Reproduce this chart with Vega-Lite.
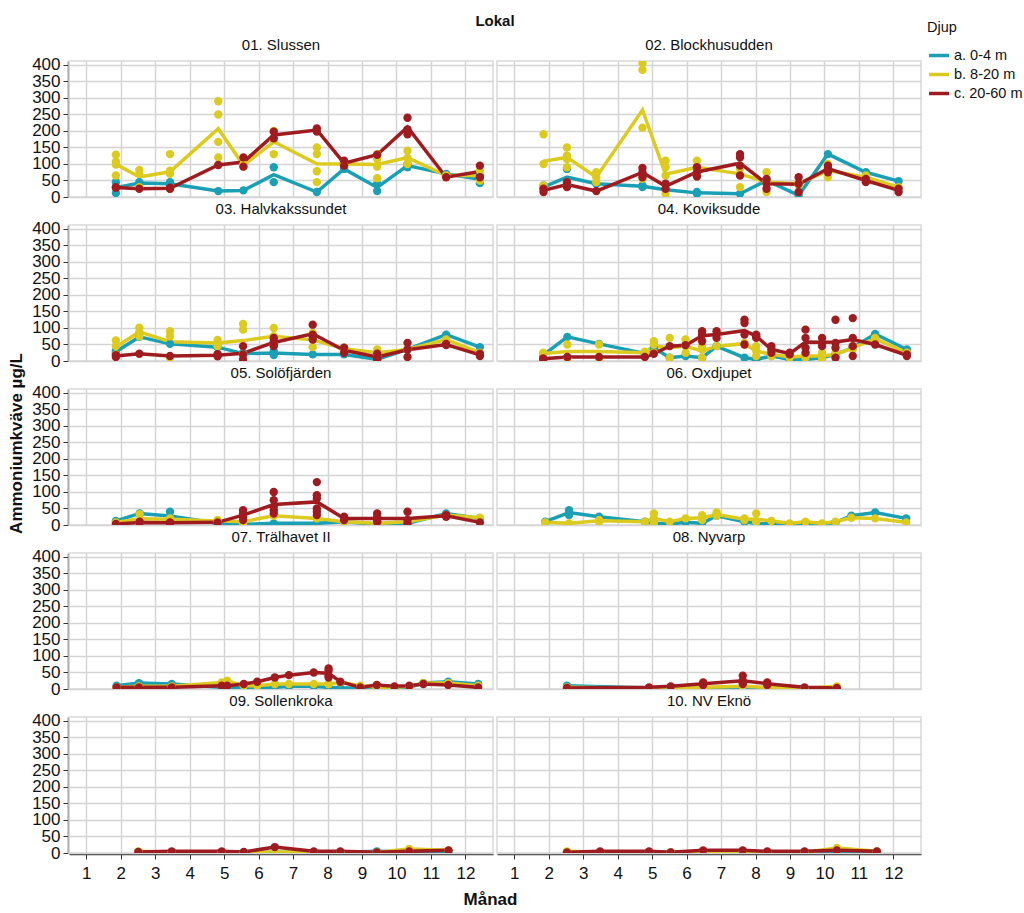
{
"$schema": "https://vega.github.io/schema/vega-lite/v6.json",
"background": "white",
"padding": {"left": 7, "top": 14, "right": 0, "bottom": 0},
"config": {
 "font": "Liberation Sans, Arial, sans-serif",
 "view": {"stroke": "#d9d9d9", "strokeWidth": 1.5},
 "axis": {"labelFontSize": 17, "labelColor": "#111111", "gridColor": "#d4d4d4", "gridWidth": 1.5, "domainColor": "#333333", "domainWidth": 1.5, "tickColor": "#333333", "tickSize": 5, "labelPadding": 3, "labelOverlap": false},
 "header": {"labelFontSize": 15, "labelColor": "#111111", "titleFontSize": 15, "titleFontWeight": "bold", "titleColor": "#111111", "labelPadding": 8, "titlePadding": 8},
 "legend": {"labelFontSize": 14.5, "titleFontSize": 14.5, "titleFontWeight": "normal", "labelColor": "#111111", "titleColor": "#111111"}
},
"title": {"text": "Ammoniumkväve µg/L", "orient": "left", "anchor": "middle", "fontSize": 17, "fontWeight": "bold", "color": "#111111", "offset": 6, "dx": 20},
"vconcat": [
 {
  "data": {"values": [
{"l":"01. Slussen","d":"a. 0-4 m","m":1.86,"v":45},{"l":"01. Slussen","d":"a. 0-4 m","m":1.86,"v":12},{"l":"01. Slussen","d":"a. 0-4 m","m":2.54,"v":45},{"l":"01. Slussen","d":"a. 0-4 m","m":2.54,"v":40},{"l":"01. Slussen","d":"a. 0-4 m","m":3.43,"v":45},{"l":"01. Slussen","d":"a. 0-4 m","m":3.43,"v":35},{"l":"01. Slussen","d":"a. 0-4 m","m":4.83,"v":18},{"l":"01. Slussen","d":"a. 0-4 m","m":5.56,"v":20},{"l":"01. Slussen","d":"a. 0-4 m","m":6.44,"v":90},{"l":"01. Slussen","d":"a. 0-4 m","m":6.44,"v":45},{"l":"01. Slussen","d":"a. 0-4 m","m":7.69,"v":15},{"l":"01. Slussen","d":"a. 0-4 m","m":8.48,"v":85},{"l":"01. Slussen","d":"a. 0-4 m","m":9.44,"v":40},{"l":"01. Slussen","d":"a. 0-4 m","m":9.44,"v":18},{"l":"01. Slussen","d":"a. 0-4 m","m":10.32,"v":90},{"l":"01. Slussen","d":"a. 0-4 m","m":10.32,"v":100},{"l":"01. Slussen","d":"a. 0-4 m","m":11.44,"v":70},{"l":"01. Slussen","d":"a. 0-4 m","m":12.42,"v":42},{"l":"01. Slussen","d":"a. 0-4 m","m":12.42,"v":65},
{"l":"02. Blockhusudden","d":"a. 0-4 m","m":1.85,"v":35},{"l":"02. Blockhusudden","d":"a. 0-4 m","m":1.85,"v":25},{"l":"02. Blockhusudden","d":"a. 0-4 m","m":2.53,"v":85},{"l":"02. Blockhusudden","d":"a. 0-4 m","m":2.53,"v":35},{"l":"02. Blockhusudden","d":"a. 0-4 m","m":3.38,"v":40},{"l":"02. Blockhusudden","d":"a. 0-4 m","m":4.72,"v":35},{"l":"02. Blockhusudden","d":"a. 0-4 m","m":4.72,"v":30},{"l":"02. Blockhusudden","d":"a. 0-4 m","m":5.39,"v":22},{"l":"02. Blockhusudden","d":"a. 0-4 m","m":6.3,"v":15},{"l":"02. Blockhusudden","d":"a. 0-4 m","m":6.3,"v":10},{"l":"02. Blockhusudden","d":"a. 0-4 m","m":7.55,"v":10},{"l":"02. Blockhusudden","d":"a. 0-4 m","m":8.32,"v":50},{"l":"02. Blockhusudden","d":"a. 0-4 m","m":9.25,"v":5},{"l":"02. Blockhusudden","d":"a. 0-4 m","m":10.1,"v":130},{"l":"02. Blockhusudden","d":"a. 0-4 m","m":11.2,"v":75},{"l":"02. Blockhusudden","d":"a. 0-4 m","m":12.15,"v":48},
{"l":"03. Halvkakssundet","d":"a. 0-4 m","m":1.86,"v":31},{"l":"03. Halvkakssundet","d":"a. 0-4 m","m":1.86,"v":25},{"l":"03. Halvkakssundet","d":"a. 0-4 m","m":2.54,"v":73},{"l":"03. Halvkakssundet","d":"a. 0-4 m","m":3.43,"v":52},{"l":"03. Halvkakssundet","d":"a. 0-4 m","m":4.81,"v":42},{"l":"03. Halvkakssundet","d":"a. 0-4 m","m":5.55,"v":20},{"l":"03. Halvkakssundet","d":"a. 0-4 m","m":5.55,"v":25},{"l":"03. Halvkakssundet","d":"a. 0-4 m","m":6.44,"v":30},{"l":"03. Halvkakssundet","d":"a. 0-4 m","m":6.44,"v":18},{"l":"03. Halvkakssundet","d":"a. 0-4 m","m":7.57,"v":20},{"l":"03. Halvkakssundet","d":"a. 0-4 m","m":8.48,"v":20},{"l":"03. Halvkakssundet","d":"a. 0-4 m","m":9.44,"v":5},{"l":"03. Halvkakssundet","d":"a. 0-4 m","m":10.32,"v":35},{"l":"03. Halvkakssundet","d":"a. 0-4 m","m":11.44,"v":80},{"l":"03. Halvkakssundet","d":"a. 0-4 m","m":12.42,"v":42},
{"l":"04. Koviksudde","d":"a. 0-4 m","m":1.84,"v":18},{"l":"04. Koviksudde","d":"a. 0-4 m","m":2.54,"v":73},{"l":"04. Koviksudde","d":"a. 0-4 m","m":3.46,"v":52},{"l":"04. Koviksudde","d":"a. 0-4 m","m":4.79,"v":23},{"l":"04. Koviksudde","d":"a. 0-4 m","m":5.05,"v":40},{"l":"04. Koviksudde","d":"a. 0-4 m","m":5.51,"v":10},{"l":"04. Koviksudde","d":"a. 0-4 m","m":5.97,"v":15},{"l":"04. Koviksudde","d":"a. 0-4 m","m":6.45,"v":10},{"l":"04. Koviksudde","d":"a. 0-4 m","m":6.87,"v":45},{"l":"04. Koviksudde","d":"a. 0-4 m","m":7.68,"v":10},{"l":"04. Koviksudde","d":"a. 0-4 m","m":8.02,"v":5},{"l":"04. Koviksudde","d":"a. 0-4 m","m":8.46,"v":15},{"l":"04. Koviksudde","d":"a. 0-4 m","m":8.99,"v":5},{"l":"04. Koviksudde","d":"a. 0-4 m","m":9.45,"v":5},{"l":"04. Koviksudde","d":"a. 0-4 m","m":9.93,"v":10},{"l":"04. Koviksudde","d":"a. 0-4 m","m":10.32,"v":20},{"l":"04. Koviksudde","d":"a. 0-4 m","m":10.82,"v":40},{"l":"04. Koviksudde","d":"a. 0-4 m","m":11.47,"v":82},{"l":"04. Koviksudde","d":"a. 0-4 m","m":12.39,"v":35},
{"l":"05. Solöfjärden","d":"a. 0-4 m","m":1.86,"v":12},{"l":"05. Solöfjärden","d":"a. 0-4 m","m":2.55,"v":35},{"l":"05. Solöfjärden","d":"a. 0-4 m","m":3.43,"v":40},{"l":"05. Solöfjärden","d":"a. 0-4 m","m":3.43,"v":15},{"l":"05. Solöfjärden","d":"a. 0-4 m","m":4.81,"v":5},{"l":"05. Solöfjärden","d":"a. 0-4 m","m":5.55,"v":2},{"l":"05. Solöfjärden","d":"a. 0-4 m","m":6.44,"v":5},{"l":"05. Solöfjärden","d":"a. 0-4 m","m":7.69,"v":5},{"l":"05. Solöfjärden","d":"a. 0-4 m","m":8.48,"v":10},{"l":"05. Solöfjärden","d":"a. 0-4 m","m":9.44,"v":2},{"l":"05. Solöfjärden","d":"a. 0-4 m","m":10.32,"v":5},{"l":"05. Solöfjärden","d":"a. 0-4 m","m":11.44,"v":35},{"l":"05. Solöfjärden","d":"a. 0-4 m","m":12.42,"v":20},
{"l":"06. Oxdjupet","d":"a. 0-4 m","m":1.9,"v":10},{"l":"06. Oxdjupet","d":"a. 0-4 m","m":2.59,"v":45},{"l":"06. Oxdjupet","d":"a. 0-4 m","m":2.59,"v":30},{"l":"06. Oxdjupet","d":"a. 0-4 m","m":3.46,"v":25},{"l":"06. Oxdjupet","d":"a. 0-4 m","m":4.79,"v":10},{"l":"06. Oxdjupet","d":"a. 0-4 m","m":5.05,"v":5},{"l":"06. Oxdjupet","d":"a. 0-4 m","m":5.51,"v":3},{"l":"06. Oxdjupet","d":"a. 0-4 m","m":5.97,"v":8},{"l":"06. Oxdjupet","d":"a. 0-4 m","m":6.45,"v":5},{"l":"06. Oxdjupet","d":"a. 0-4 m","m":6.87,"v":28},{"l":"06. Oxdjupet","d":"a. 0-4 m","m":7.68,"v":10},{"l":"06. Oxdjupet","d":"a. 0-4 m","m":8.02,"v":5},{"l":"06. Oxdjupet","d":"a. 0-4 m","m":8.46,"v":3},{"l":"06. Oxdjupet","d":"a. 0-4 m","m":8.99,"v":2},{"l":"06. Oxdjupet","d":"a. 0-4 m","m":9.45,"v":3},{"l":"06. Oxdjupet","d":"a. 0-4 m","m":9.93,"v":2},{"l":"06. Oxdjupet","d":"a. 0-4 m","m":10.32,"v":8},{"l":"06. Oxdjupet","d":"a. 0-4 m","m":10.78,"v":28},{"l":"06. Oxdjupet","d":"a. 0-4 m","m":11.47,"v":38},{"l":"06. Oxdjupet","d":"a. 0-4 m","m":12.37,"v":20},
{"l":"07. Trälhavet II","d":"a. 0-4 m","m":1.88,"v":10},{"l":"07. Trälhavet II","d":"a. 0-4 m","m":2.53,"v":18},{"l":"07. Trälhavet II","d":"a. 0-4 m","m":3.48,"v":15},{"l":"07. Trälhavet II","d":"a. 0-4 m","m":4.93,"v":5},{"l":"07. Trälhavet II","d":"a. 0-4 m","m":5.09,"v":5},{"l":"07. Trälhavet II","d":"a. 0-4 m","m":5.57,"v":3},{"l":"07. Trälhavet II","d":"a. 0-4 m","m":5.96,"v":3},{"l":"07. Trälhavet II","d":"a. 0-4 m","m":6.47,"v":5},{"l":"07. Trälhavet II","d":"a. 0-4 m","m":6.88,"v":8},{"l":"07. Trälhavet II","d":"a. 0-4 m","m":7.6,"v":8},{"l":"07. Trälhavet II","d":"a. 0-4 m","m":8.03,"v":5},{"l":"07. Trälhavet II","d":"a. 0-4 m","m":8.37,"v":3},{"l":"07. Trälhavet II","d":"a. 0-4 m","m":8.95,"v":3},{"l":"07. Trälhavet II","d":"a. 0-4 m","m":9.43,"v":3},{"l":"07. Trälhavet II","d":"a. 0-4 m","m":9.94,"v":3},{"l":"07. Trälhavet II","d":"a. 0-4 m","m":10.37,"v":5},{"l":"07. Trälhavet II","d":"a. 0-4 m","m":10.78,"v":18},{"l":"07. Trälhavet II","d":"a. 0-4 m","m":11.5,"v":22},{"l":"07. Trälhavet II","d":"a. 0-4 m","m":12.37,"v":15},
{"l":"08. Nyvarp","d":"a. 0-4 m","m":2.53,"v":10},{"l":"08. Nyvarp","d":"a. 0-4 m","m":4.91,"v":3},{"l":"08. Nyvarp","d":"a. 0-4 m","m":5.54,"v":2},{"l":"08. Nyvarp","d":"a. 0-4 m","m":6.48,"v":2},{"l":"08. Nyvarp","d":"a. 0-4 m","m":7.63,"v":2},{"l":"08. Nyvarp","d":"a. 0-4 m","m":8.34,"v":2},{"l":"08. Nyvarp","d":"a. 0-4 m","m":9.42,"v":2},{"l":"08. Nyvarp","d":"a. 0-4 m","m":10.36,"v":2},
{"l":"09. Sollenkroka","d":"a. 0-4 m","m":2.51,"v":2},{"l":"09. Sollenkroka","d":"a. 0-4 m","m":3.48,"v":2},{"l":"09. Sollenkroka","d":"a. 0-4 m","m":4.93,"v":2},{"l":"09. Sollenkroka","d":"a. 0-4 m","m":5.57,"v":2},{"l":"09. Sollenkroka","d":"a. 0-4 m","m":6.47,"v":2},{"l":"09. Sollenkroka","d":"a. 0-4 m","m":7.6,"v":2},{"l":"09. Sollenkroka","d":"a. 0-4 m","m":8.37,"v":2},{"l":"09. Sollenkroka","d":"a. 0-4 m","m":9.43,"v":5},{"l":"09. Sollenkroka","d":"a. 0-4 m","m":10.37,"v":3},{"l":"09. Sollenkroka","d":"a. 0-4 m","m":11.51,"v":5},
{"l":"10. NV Eknö","d":"a. 0-4 m","m":2.53,"v":2},{"l":"10. NV Eknö","d":"a. 0-4 m","m":3.49,"v":2},{"l":"10. NV Eknö","d":"a. 0-4 m","m":4.91,"v":2},{"l":"10. NV Eknö","d":"a. 0-4 m","m":5.54,"v":2},{"l":"10. NV Eknö","d":"a. 0-4 m","m":6.48,"v":2},{"l":"10. NV Eknö","d":"a. 0-4 m","m":7.63,"v":2},{"l":"10. NV Eknö","d":"a. 0-4 m","m":8.34,"v":2},{"l":"10. NV Eknö","d":"a. 0-4 m","m":9.42,"v":2},{"l":"10. NV Eknö","d":"a. 0-4 m","m":10.36,"v":2},{"l":"10. NV Eknö","d":"a. 0-4 m","m":11.52,"v":2},
{"l":"01. Slussen","d":"b. 8-20 m","m":1.86,"v":128},{"l":"01. Slussen","d":"b. 8-20 m","m":1.86,"v":107},{"l":"01. Slussen","d":"b. 8-20 m","m":1.86,"v":98},{"l":"01. Slussen","d":"b. 8-20 m","m":1.86,"v":65},{"l":"01. Slussen","d":"b. 8-20 m","m":2.54,"v":82},{"l":"01. Slussen","d":"b. 8-20 m","m":2.54,"v":70},{"l":"01. Slussen","d":"b. 8-20 m","m":2.54,"v":30},{"l":"01. Slussen","d":"b. 8-20 m","m":3.43,"v":130},{"l":"01. Slussen","d":"b. 8-20 m","m":3.43,"v":80},{"l":"01. Slussen","d":"b. 8-20 m","m":3.43,"v":70},{"l":"01. Slussen","d":"b. 8-20 m","m":3.43,"v":25},{"l":"01. Slussen","d":"b. 8-20 m","m":4.83,"v":290},{"l":"01. Slussen","d":"b. 8-20 m","m":4.83,"v":250},{"l":"01. Slussen","d":"b. 8-20 m","m":4.83,"v":167},{"l":"01. Slussen","d":"b. 8-20 m","m":4.83,"v":120},{"l":"01. Slussen","d":"b. 8-20 m","m":5.56,"v":100},{"l":"01. Slussen","d":"b. 8-20 m","m":5.56,"v":92},{"l":"01. Slussen","d":"b. 8-20 m","m":6.44,"v":200},{"l":"01. Slussen","d":"b. 8-20 m","m":6.44,"v":172},{"l":"01. Slussen","d":"b. 8-20 m","m":6.44,"v":130},{"l":"01. Slussen","d":"b. 8-20 m","m":7.69,"v":150},{"l":"01. Slussen","d":"b. 8-20 m","m":7.69,"v":130},{"l":"01. Slussen","d":"b. 8-20 m","m":7.69,"v":78},{"l":"01. Slussen","d":"b. 8-20 m","m":7.69,"v":45},{"l":"01. Slussen","d":"b. 8-20 m","m":8.48,"v":100},{"l":"01. Slussen","d":"b. 8-20 m","m":9.44,"v":130},{"l":"01. Slussen","d":"b. 8-20 m","m":9.44,"v":92},{"l":"01. Slussen","d":"b. 8-20 m","m":9.44,"v":57},{"l":"01. Slussen","d":"b. 8-20 m","m":9.44,"v":115},{"l":"01. Slussen","d":"b. 8-20 m","m":10.32,"v":140},{"l":"01. Slussen","d":"b. 8-20 m","m":10.32,"v":118},{"l":"01. Slussen","d":"b. 8-20 m","m":10.32,"v":100},{"l":"01. Slussen","d":"b. 8-20 m","m":11.44,"v":65},{"l":"01. Slussen","d":"b. 8-20 m","m":12.42,"v":80},{"l":"01. Slussen","d":"b. 8-20 m","m":12.42,"v":50},
{"l":"02. Blockhusudden","d":"b. 8-20 m","m":1.85,"v":190},{"l":"02. Blockhusudden","d":"b. 8-20 m","m":1.85,"v":100},{"l":"02. Blockhusudden","d":"b. 8-20 m","m":1.85,"v":35},{"l":"02. Blockhusudden","d":"b. 8-20 m","m":2.53,"v":150},{"l":"02. Blockhusudden","d":"b. 8-20 m","m":2.53,"v":125},{"l":"02. Blockhusudden","d":"b. 8-20 m","m":2.53,"v":115},{"l":"02. Blockhusudden","d":"b. 8-20 m","m":2.53,"v":90},{"l":"02. Blockhusudden","d":"b. 8-20 m","m":3.38,"v":75},{"l":"02. Blockhusudden","d":"b. 8-20 m","m":3.38,"v":60},{"l":"02. Blockhusudden","d":"b. 8-20 m","m":3.38,"v":45},{"l":"02. Blockhusudden","d":"b. 8-20 m","m":4.72,"v":405},{"l":"02. Blockhusudden","d":"b. 8-20 m","m":4.72,"v":385},{"l":"02. Blockhusudden","d":"b. 8-20 m","m":4.72,"v":210},{"l":"02. Blockhusudden","d":"b. 8-20 m","m":4.72,"v":55},{"l":"02. Blockhusudden","d":"b. 8-20 m","m":5.39,"v":110},{"l":"02. Blockhusudden","d":"b. 8-20 m","m":5.39,"v":90},{"l":"02. Blockhusudden","d":"b. 8-20 m","m":5.39,"v":65},{"l":"02. Blockhusudden","d":"b. 8-20 m","m":5.39,"v":10},{"l":"02. Blockhusudden","d":"b. 8-20 m","m":6.3,"v":110},{"l":"02. Blockhusudden","d":"b. 8-20 m","m":6.3,"v":90},{"l":"02. Blockhusudden","d":"b. 8-20 m","m":6.3,"v":70},{"l":"02. Blockhusudden","d":"b. 8-20 m","m":7.55,"v":95},{"l":"02. Blockhusudden","d":"b. 8-20 m","m":7.55,"v":85},{"l":"02. Blockhusudden","d":"b. 8-20 m","m":7.55,"v":30},{"l":"02. Blockhusudden","d":"b. 8-20 m","m":8.32,"v":75},{"l":"02. Blockhusudden","d":"b. 8-20 m","m":8.32,"v":45},{"l":"02. Blockhusudden","d":"b. 8-20 m","m":8.32,"v":15},{"l":"02. Blockhusudden","d":"b. 8-20 m","m":9.25,"v":45},{"l":"02. Blockhusudden","d":"b. 8-20 m","m":9.25,"v":35},{"l":"02. Blockhusudden","d":"b. 8-20 m","m":10.1,"v":60},{"l":"02. Blockhusudden","d":"b. 8-20 m","m":10.1,"v":100},{"l":"02. Blockhusudden","d":"b. 8-20 m","m":11.2,"v":65},{"l":"02. Blockhusudden","d":"b. 8-20 m","m":11.2,"v":55},{"l":"02. Blockhusudden","d":"b. 8-20 m","m":12.15,"v":30},
{"l":"03. Halvkakssundet","d":"b. 8-20 m","m":1.86,"v":62},{"l":"03. Halvkakssundet","d":"b. 8-20 m","m":1.86,"v":45},{"l":"03. Halvkakssundet","d":"b. 8-20 m","m":1.86,"v":20},{"l":"03. Halvkakssundet","d":"b. 8-20 m","m":2.54,"v":101},{"l":"03. Halvkakssundet","d":"b. 8-20 m","m":2.54,"v":88},{"l":"03. Halvkakssundet","d":"b. 8-20 m","m":2.54,"v":75},{"l":"03. Halvkakssundet","d":"b. 8-20 m","m":3.43,"v":90},{"l":"03. Halvkakssundet","d":"b. 8-20 m","m":3.43,"v":75},{"l":"03. Halvkakssundet","d":"b. 8-20 m","m":3.43,"v":10},{"l":"03. Halvkakssundet","d":"b. 8-20 m","m":4.81,"v":64},{"l":"03. Halvkakssundet","d":"b. 8-20 m","m":4.81,"v":45},{"l":"03. Halvkakssundet","d":"b. 8-20 m","m":5.55,"v":112},{"l":"03. Halvkakssundet","d":"b. 8-20 m","m":5.55,"v":95},{"l":"03. Halvkakssundet","d":"b. 8-20 m","m":5.55,"v":20},{"l":"03. Halvkakssundet","d":"b. 8-20 m","m":5.55,"v":20},{"l":"03. Halvkakssundet","d":"b. 8-20 m","m":6.44,"v":100},{"l":"03. Halvkakssundet","d":"b. 8-20 m","m":6.44,"v":75},{"l":"03. Halvkakssundet","d":"b. 8-20 m","m":6.44,"v":50},{"l":"03. Halvkakssundet","d":"b. 8-20 m","m":7.57,"v":85},{"l":"03. Halvkakssundet","d":"b. 8-20 m","m":7.57,"v":65},{"l":"03. Halvkakssundet","d":"b. 8-20 m","m":7.57,"v":42},{"l":"03. Halvkakssundet","d":"b. 8-20 m","m":8.48,"v":40},{"l":"03. Halvkakssundet","d":"b. 8-20 m","m":8.48,"v":35},{"l":"03. Halvkakssundet","d":"b. 8-20 m","m":9.44,"v":35},{"l":"03. Halvkakssundet","d":"b. 8-20 m","m":9.44,"v":15},{"l":"03. Halvkakssundet","d":"b. 8-20 m","m":10.32,"v":35},{"l":"03. Halvkakssundet","d":"b. 8-20 m","m":11.44,"v":65},{"l":"03. Halvkakssundet","d":"b. 8-20 m","m":12.42,"v":25},
{"l":"04. Koviksudde","d":"b. 8-20 m","m":1.84,"v":25},{"l":"04. Koviksudde","d":"b. 8-20 m","m":1.84,"v":20},{"l":"04. Koviksudde","d":"b. 8-20 m","m":2.54,"v":50},{"l":"04. Koviksudde","d":"b. 8-20 m","m":2.54,"v":8},{"l":"04. Koviksudde","d":"b. 8-20 m","m":3.46,"v":50},{"l":"04. Koviksudde","d":"b. 8-20 m","m":3.46,"v":8},{"l":"04. Koviksudde","d":"b. 8-20 m","m":4.79,"v":28},{"l":"04. Koviksudde","d":"b. 8-20 m","m":4.79,"v":22},{"l":"04. Koviksudde","d":"b. 8-20 m","m":5.05,"v":60},{"l":"04. Koviksudde","d":"b. 8-20 m","m":5.05,"v":50},{"l":"04. Koviksudde","d":"b. 8-20 m","m":5.05,"v":25},{"l":"04. Koviksudde","d":"b. 8-20 m","m":5.51,"v":70},{"l":"04. Koviksudde","d":"b. 8-20 m","m":5.51,"v":10},{"l":"04. Koviksudde","d":"b. 8-20 m","m":5.97,"v":65},{"l":"04. Koviksudde","d":"b. 8-20 m","m":5.97,"v":45},{"l":"04. Koviksudde","d":"b. 8-20 m","m":5.97,"v":25},{"l":"04. Koviksudde","d":"b. 8-20 m","m":6.45,"v":45},{"l":"04. Koviksudde","d":"b. 8-20 m","m":6.45,"v":10},{"l":"04. Koviksudde","d":"b. 8-20 m","m":6.45,"v":35},{"l":"04. Koviksudde","d":"b. 8-20 m","m":6.87,"v":45},{"l":"04. Koviksudde","d":"b. 8-20 m","m":7.68,"v":50},{"l":"04. Koviksudde","d":"b. 8-20 m","m":7.68,"v":55},{"l":"04. Koviksudde","d":"b. 8-20 m","m":8.02,"v":30},{"l":"04. Koviksudde","d":"b. 8-20 m","m":8.02,"v":15},{"l":"04. Koviksudde","d":"b. 8-20 m","m":8.02,"v":45},{"l":"04. Koviksudde","d":"b. 8-20 m","m":8.46,"v":25},{"l":"04. Koviksudde","d":"b. 8-20 m","m":8.46,"v":15},{"l":"04. Koviksudde","d":"b. 8-20 m","m":8.99,"v":15},{"l":"04. Koviksudde","d":"b. 8-20 m","m":8.99,"v":10},{"l":"04. Koviksudde","d":"b. 8-20 m","m":9.45,"v":20},{"l":"04. Koviksudde","d":"b. 8-20 m","m":9.45,"v":10},{"l":"04. Koviksudde","d":"b. 8-20 m","m":9.93,"v":15},{"l":"04. Koviksudde","d":"b. 8-20 m","m":9.93,"v":5},{"l":"04. Koviksudde","d":"b. 8-20 m","m":9.93,"v":25},{"l":"04. Koviksudde","d":"b. 8-20 m","m":10.32,"v":15},{"l":"04. Koviksudde","d":"b. 8-20 m","m":10.32,"v":25},{"l":"04. Koviksudde","d":"b. 8-20 m","m":10.82,"v":45},{"l":"04. Koviksudde","d":"b. 8-20 m","m":10.82,"v":35},{"l":"04. Koviksudde","d":"b. 8-20 m","m":11.47,"v":70},{"l":"04. Koviksudde","d":"b. 8-20 m","m":11.47,"v":65},{"l":"04. Koviksudde","d":"b. 8-20 m","m":12.39,"v":25},
{"l":"05. Solöfjärden","d":"b. 8-20 m","m":1.86,"v":8},{"l":"05. Solöfjärden","d":"b. 8-20 m","m":2.55,"v":33},{"l":"05. Solöfjärden","d":"b. 8-20 m","m":2.55,"v":5},{"l":"05. Solöfjärden","d":"b. 8-20 m","m":3.43,"v":20},{"l":"05. Solöfjärden","d":"b. 8-20 m","m":3.43,"v":15},{"l":"05. Solöfjärden","d":"b. 8-20 m","m":4.81,"v":15},{"l":"05. Solöfjärden","d":"b. 8-20 m","m":4.81,"v":10},{"l":"05. Solöfjärden","d":"b. 8-20 m","m":5.55,"v":5},{"l":"05. Solöfjärden","d":"b. 8-20 m","m":5.55,"v":15},{"l":"05. Solöfjärden","d":"b. 8-20 m","m":6.44,"v":28},{"l":"05. Solöfjärden","d":"b. 8-20 m","m":7.69,"v":20},{"l":"05. Solöfjärden","d":"b. 8-20 m","m":8.48,"v":10},{"l":"05. Solöfjärden","d":"b. 8-20 m","m":9.44,"v":5},{"l":"05. Solöfjärden","d":"b. 8-20 m","m":10.32,"v":10},{"l":"05. Solöfjärden","d":"b. 8-20 m","m":11.44,"v":30},{"l":"05. Solöfjärden","d":"b. 8-20 m","m":12.42,"v":22},
{"l":"06. Oxdjupet","d":"b. 8-20 m","m":1.9,"v":8},{"l":"06. Oxdjupet","d":"b. 8-20 m","m":2.59,"v":5},{"l":"06. Oxdjupet","d":"b. 8-20 m","m":3.46,"v":15},{"l":"06. Oxdjupet","d":"b. 8-20 m","m":3.46,"v":10},{"l":"06. Oxdjupet","d":"b. 8-20 m","m":4.79,"v":10},{"l":"06. Oxdjupet","d":"b. 8-20 m","m":5.05,"v":35},{"l":"06. Oxdjupet","d":"b. 8-20 m","m":5.05,"v":20},{"l":"06. Oxdjupet","d":"b. 8-20 m","m":5.05,"v":5},{"l":"06. Oxdjupet","d":"b. 8-20 m","m":5.51,"v":10},{"l":"06. Oxdjupet","d":"b. 8-20 m","m":5.97,"v":20},{"l":"06. Oxdjupet","d":"b. 8-20 m","m":6.45,"v":30},{"l":"06. Oxdjupet","d":"b. 8-20 m","m":6.45,"v":20},{"l":"06. Oxdjupet","d":"b. 8-20 m","m":6.45,"v":15},{"l":"06. Oxdjupet","d":"b. 8-20 m","m":6.87,"v":38},{"l":"06. Oxdjupet","d":"b. 8-20 m","m":6.87,"v":30},{"l":"06. Oxdjupet","d":"b. 8-20 m","m":6.87,"v":28},{"l":"06. Oxdjupet","d":"b. 8-20 m","m":7.68,"v":20},{"l":"06. Oxdjupet","d":"b. 8-20 m","m":7.68,"v":15},{"l":"06. Oxdjupet","d":"b. 8-20 m","m":8.02,"v":35},{"l":"06. Oxdjupet","d":"b. 8-20 m","m":8.02,"v":10},{"l":"06. Oxdjupet","d":"b. 8-20 m","m":8.02,"v":10},{"l":"06. Oxdjupet","d":"b. 8-20 m","m":8.46,"v":12},{"l":"06. Oxdjupet","d":"b. 8-20 m","m":8.99,"v":5},{"l":"06. Oxdjupet","d":"b. 8-20 m","m":9.45,"v":10},{"l":"06. Oxdjupet","d":"b. 8-20 m","m":9.93,"v":5},{"l":"06. Oxdjupet","d":"b. 8-20 m","m":10.32,"v":10},{"l":"06. Oxdjupet","d":"b. 8-20 m","m":10.78,"v":22},{"l":"06. Oxdjupet","d":"b. 8-20 m","m":11.47,"v":20},{"l":"06. Oxdjupet","d":"b. 8-20 m","m":12.37,"v":8},
{"l":"07. Trälhavet II","d":"b. 8-20 m","m":1.88,"v":5},{"l":"07. Trälhavet II","d":"b. 8-20 m","m":2.53,"v":8},{"l":"07. Trälhavet II","d":"b. 8-20 m","m":3.48,"v":8},{"l":"07. Trälhavet II","d":"b. 8-20 m","m":4.93,"v":20},{"l":"07. Trälhavet II","d":"b. 8-20 m","m":5.09,"v":25},{"l":"07. Trälhavet II","d":"b. 8-20 m","m":5.57,"v":10},{"l":"07. Trälhavet II","d":"b. 8-20 m","m":5.96,"v":10},{"l":"07. Trälhavet II","d":"b. 8-20 m","m":6.47,"v":15},{"l":"07. Trälhavet II","d":"b. 8-20 m","m":6.88,"v":15},{"l":"07. Trälhavet II","d":"b. 8-20 m","m":7.6,"v":15},{"l":"07. Trälhavet II","d":"b. 8-20 m","m":8.03,"v":15},{"l":"07. Trälhavet II","d":"b. 8-20 m","m":8.03,"v":15},{"l":"07. Trälhavet II","d":"b. 8-20 m","m":8.37,"v":20},{"l":"07. Trälhavet II","d":"b. 8-20 m","m":8.95,"v":10},{"l":"07. Trälhavet II","d":"b. 8-20 m","m":9.43,"v":5},{"l":"07. Trälhavet II","d":"b. 8-20 m","m":9.94,"v":5},{"l":"07. Trälhavet II","d":"b. 8-20 m","m":10.37,"v":8},{"l":"07. Trälhavet II","d":"b. 8-20 m","m":10.78,"v":18},{"l":"07. Trälhavet II","d":"b. 8-20 m","m":11.5,"v":18},{"l":"07. Trälhavet II","d":"b. 8-20 m","m":12.37,"v":10},
{"l":"08. Nyvarp","d":"b. 8-20 m","m":2.53,"v":5},{"l":"08. Nyvarp","d":"b. 8-20 m","m":4.91,"v":2},{"l":"08. Nyvarp","d":"b. 8-20 m","m":5.54,"v":2},{"l":"08. Nyvarp","d":"b. 8-20 m","m":6.48,"v":5},{"l":"08. Nyvarp","d":"b. 8-20 m","m":7.63,"v":8},{"l":"08. Nyvarp","d":"b. 8-20 m","m":8.34,"v":5},{"l":"08. Nyvarp","d":"b. 8-20 m","m":9.42,"v":2},{"l":"08. Nyvarp","d":"b. 8-20 m","m":10.36,"v":8},
{"l":"09. Sollenkroka","d":"b. 8-20 m","m":2.51,"v":5},{"l":"09. Sollenkroka","d":"b. 8-20 m","m":3.48,"v":2},{"l":"09. Sollenkroka","d":"b. 8-20 m","m":4.93,"v":2},{"l":"09. Sollenkroka","d":"b. 8-20 m","m":5.57,"v":2},{"l":"09. Sollenkroka","d":"b. 8-20 m","m":6.47,"v":3},{"l":"09. Sollenkroka","d":"b. 8-20 m","m":7.6,"v":2},{"l":"09. Sollenkroka","d":"b. 8-20 m","m":8.37,"v":2},{"l":"09. Sollenkroka","d":"b. 8-20 m","m":9.43,"v":2},{"l":"09. Sollenkroka","d":"b. 8-20 m","m":10.37,"v":12},{"l":"09. Sollenkroka","d":"b. 8-20 m","m":11.51,"v":8},
{"l":"10. NV Eknö","d":"b. 8-20 m","m":2.53,"v":5},{"l":"10. NV Eknö","d":"b. 8-20 m","m":3.49,"v":2},{"l":"10. NV Eknö","d":"b. 8-20 m","m":4.91,"v":2},{"l":"10. NV Eknö","d":"b. 8-20 m","m":5.54,"v":2},{"l":"10. NV Eknö","d":"b. 8-20 m","m":6.48,"v":3},{"l":"10. NV Eknö","d":"b. 8-20 m","m":7.63,"v":3},{"l":"10. NV Eknö","d":"b. 8-20 m","m":8.34,"v":2},{"l":"10. NV Eknö","d":"b. 8-20 m","m":9.42,"v":2},{"l":"10. NV Eknö","d":"b. 8-20 m","m":10.36,"v":15},{"l":"10. NV Eknö","d":"b. 8-20 m","m":11.52,"v":5},
{"l":"01. Slussen","d":"c. 20-60 m","m":1.86,"v":30},{"l":"01. Slussen","d":"c. 20-60 m","m":1.86,"v":28},{"l":"01. Slussen","d":"c. 20-60 m","m":2.54,"v":25},{"l":"01. Slussen","d":"c. 20-60 m","m":3.43,"v":28},{"l":"01. Slussen","d":"c. 20-60 m","m":3.43,"v":25},{"l":"01. Slussen","d":"c. 20-60 m","m":4.83,"v":97},{"l":"01. Slussen","d":"c. 20-60 m","m":5.56,"v":120},{"l":"01. Slussen","d":"c. 20-60 m","m":5.56,"v":92},{"l":"01. Slussen","d":"c. 20-60 m","m":6.44,"v":198},{"l":"01. Slussen","d":"c. 20-60 m","m":6.44,"v":178},{"l":"01. Slussen","d":"c. 20-60 m","m":7.69,"v":208},{"l":"01. Slussen","d":"c. 20-60 m","m":7.69,"v":198},{"l":"01. Slussen","d":"c. 20-60 m","m":8.48,"v":110},{"l":"01. Slussen","d":"c. 20-60 m","m":8.48,"v":95},{"l":"01. Slussen","d":"c. 20-60 m","m":9.44,"v":128},{"l":"01. Slussen","d":"c. 20-60 m","m":10.32,"v":240},{"l":"01. Slussen","d":"c. 20-60 m","m":10.32,"v":205},{"l":"01. Slussen","d":"c. 20-60 m","m":10.32,"v":190},{"l":"01. Slussen","d":"c. 20-60 m","m":11.44,"v":60},{"l":"01. Slussen","d":"c. 20-60 m","m":12.42,"v":95},{"l":"01. Slussen","d":"c. 20-60 m","m":12.42,"v":60},
{"l":"02. Blockhusudden","d":"c. 20-60 m","m":1.85,"v":25},{"l":"02. Blockhusudden","d":"c. 20-60 m","m":1.85,"v":15},{"l":"02. Blockhusudden","d":"c. 20-60 m","m":2.53,"v":45},{"l":"02. Blockhusudden","d":"c. 20-60 m","m":2.53,"v":30},{"l":"02. Blockhusudden","d":"c. 20-60 m","m":3.38,"v":18},{"l":"02. Blockhusudden","d":"c. 20-60 m","m":4.72,"v":88},{"l":"02. Blockhusudden","d":"c. 20-60 m","m":4.72,"v":75},{"l":"02. Blockhusudden","d":"c. 20-60 m","m":4.72,"v":60},{"l":"02. Blockhusudden","d":"c. 20-60 m","m":5.39,"v":40},{"l":"02. Blockhusudden","d":"c. 20-60 m","m":5.39,"v":25},{"l":"02. Blockhusudden","d":"c. 20-60 m","m":6.3,"v":90},{"l":"02. Blockhusudden","d":"c. 20-60 m","m":6.3,"v":75},{"l":"02. Blockhusudden","d":"c. 20-60 m","m":6.3,"v":62},{"l":"02. Blockhusudden","d":"c. 20-60 m","m":7.55,"v":130},{"l":"02. Blockhusudden","d":"c. 20-60 m","m":7.55,"v":120},{"l":"02. Blockhusudden","d":"c. 20-60 m","m":7.55,"v":95},{"l":"02. Blockhusudden","d":"c. 20-60 m","m":7.55,"v":65},{"l":"02. Blockhusudden","d":"c. 20-60 m","m":8.32,"v":55},{"l":"02. Blockhusudden","d":"c. 20-60 m","m":8.32,"v":40},{"l":"02. Blockhusudden","d":"c. 20-60 m","m":8.32,"v":25},{"l":"02. Blockhusudden","d":"c. 20-60 m","m":9.25,"v":60},{"l":"02. Blockhusudden","d":"c. 20-60 m","m":9.25,"v":40},{"l":"02. Blockhusudden","d":"c. 20-60 m","m":9.25,"v":15},{"l":"02. Blockhusudden","d":"c. 20-60 m","m":10.1,"v":95},{"l":"02. Blockhusudden","d":"c. 20-60 m","m":10.1,"v":88},{"l":"02. Blockhusudden","d":"c. 20-60 m","m":10.1,"v":75},{"l":"02. Blockhusudden","d":"c. 20-60 m","m":11.2,"v":55},{"l":"02. Blockhusudden","d":"c. 20-60 m","m":11.2,"v":45},{"l":"02. Blockhusudden","d":"c. 20-60 m","m":12.15,"v":25},{"l":"02. Blockhusudden","d":"c. 20-60 m","m":12.15,"v":15},
{"l":"03. Halvkakssundet","d":"c. 20-60 m","m":1.86,"v":18},{"l":"03. Halvkakssundet","d":"c. 20-60 m","m":1.86,"v":12},{"l":"03. Halvkakssundet","d":"c. 20-60 m","m":2.54,"v":22},{"l":"03. Halvkakssundet","d":"c. 20-60 m","m":3.43,"v":15},{"l":"03. Halvkakssundet","d":"c. 20-60 m","m":4.81,"v":21},{"l":"03. Halvkakssundet","d":"c. 20-60 m","m":4.81,"v":14},{"l":"03. Halvkakssundet","d":"c. 20-60 m","m":5.55,"v":45},{"l":"03. Halvkakssundet","d":"c. 20-60 m","m":5.55,"v":20},{"l":"03. Halvkakssundet","d":"c. 20-60 m","m":5.55,"v":5},{"l":"03. Halvkakssundet","d":"c. 20-60 m","m":6.44,"v":70},{"l":"03. Halvkakssundet","d":"c. 20-60 m","m":6.44,"v":60},{"l":"03. Halvkakssundet","d":"c. 20-60 m","m":6.44,"v":50},{"l":"03. Halvkakssundet","d":"c. 20-60 m","m":6.44,"v":45},{"l":"03. Halvkakssundet","d":"c. 20-60 m","m":7.57,"v":110},{"l":"03. Halvkakssundet","d":"c. 20-60 m","m":7.57,"v":80},{"l":"03. Halvkakssundet","d":"c. 20-60 m","m":7.57,"v":75},{"l":"03. Halvkakssundet","d":"c. 20-60 m","m":7.57,"v":65},{"l":"03. Halvkakssundet","d":"c. 20-60 m","m":8.48,"v":40},{"l":"03. Halvkakssundet","d":"c. 20-60 m","m":8.48,"v":25},{"l":"03. Halvkakssundet","d":"c. 20-60 m","m":9.44,"v":22},{"l":"03. Halvkakssundet","d":"c. 20-60 m","m":9.44,"v":10},{"l":"03. Halvkakssundet","d":"c. 20-60 m","m":9.44,"v":5},{"l":"03. Halvkakssundet","d":"c. 20-60 m","m":10.32,"v":55},{"l":"03. Halvkakssundet","d":"c. 20-60 m","m":10.32,"v":35},{"l":"03. Halvkakssundet","d":"c. 20-60 m","m":10.32,"v":12},{"l":"03. Halvkakssundet","d":"c. 20-60 m","m":11.44,"v":52},{"l":"03. Halvkakssundet","d":"c. 20-60 m","m":11.44,"v":48},{"l":"03. Halvkakssundet","d":"c. 20-60 m","m":12.42,"v":22},{"l":"03. Halvkakssundet","d":"c. 20-60 m","m":12.42,"v":15},
{"l":"04. Koviksudde","d":"c. 20-60 m","m":1.84,"v":8},{"l":"04. Koviksudde","d":"c. 20-60 m","m":1.84,"v":5},{"l":"04. Koviksudde","d":"c. 20-60 m","m":2.54,"v":12},{"l":"04. Koviksudde","d":"c. 20-60 m","m":3.46,"v":12},{"l":"04. Koviksudde","d":"c. 20-60 m","m":4.79,"v":12},{"l":"04. Koviksudde","d":"c. 20-60 m","m":5.05,"v":22},{"l":"04. Koviksudde","d":"c. 20-60 m","m":5.51,"v":45},{"l":"04. Koviksudde","d":"c. 20-60 m","m":5.97,"v":48},{"l":"04. Koviksudde","d":"c. 20-60 m","m":6.45,"v":90},{"l":"04. Koviksudde","d":"c. 20-60 m","m":6.45,"v":80},{"l":"04. Koviksudde","d":"c. 20-60 m","m":6.45,"v":60},{"l":"04. Koviksudde","d":"c. 20-60 m","m":6.87,"v":90},{"l":"04. Koviksudde","d":"c. 20-60 m","m":6.87,"v":70},{"l":"04. Koviksudde","d":"c. 20-60 m","m":7.68,"v":125},{"l":"04. Koviksudde","d":"c. 20-60 m","m":7.68,"v":115},{"l":"04. Koviksudde","d":"c. 20-60 m","m":7.68,"v":80},{"l":"04. Koviksudde","d":"c. 20-60 m","m":7.68,"v":50},{"l":"04. Koviksudde","d":"c. 20-60 m","m":8.02,"v":75},{"l":"04. Koviksudde","d":"c. 20-60 m","m":8.02,"v":70},{"l":"04. Koviksudde","d":"c. 20-60 m","m":8.02,"v":80},{"l":"04. Koviksudde","d":"c. 20-60 m","m":8.46,"v":45},{"l":"04. Koviksudde","d":"c. 20-60 m","m":8.46,"v":35},{"l":"04. Koviksudde","d":"c. 20-60 m","m":8.46,"v":25},{"l":"04. Koviksudde","d":"c. 20-60 m","m":8.99,"v":25},{"l":"04. Koviksudde","d":"c. 20-60 m","m":8.99,"v":20},{"l":"04. Koviksudde","d":"c. 20-60 m","m":9.45,"v":95},{"l":"04. Koviksudde","d":"c. 20-60 m","m":9.45,"v":70},{"l":"04. Koviksudde","d":"c. 20-60 m","m":9.45,"v":40},{"l":"04. Koviksudde","d":"c. 20-60 m","m":9.45,"v":25},{"l":"04. Koviksudde","d":"c. 20-60 m","m":9.93,"v":70},{"l":"04. Koviksudde","d":"c. 20-60 m","m":9.93,"v":55},{"l":"04. Koviksudde","d":"c. 20-60 m","m":9.93,"v":45},{"l":"04. Koviksudde","d":"c. 20-60 m","m":10.32,"v":125},{"l":"04. Koviksudde","d":"c. 20-60 m","m":10.32,"v":55},{"l":"04. Koviksudde","d":"c. 20-60 m","m":10.32,"v":40},{"l":"04. Koviksudde","d":"c. 20-60 m","m":10.32,"v":10},{"l":"04. Koviksudde","d":"c. 20-60 m","m":10.82,"v":130},{"l":"04. Koviksudde","d":"c. 20-60 m","m":10.82,"v":70},{"l":"04. Koviksudde","d":"c. 20-60 m","m":10.82,"v":45},{"l":"04. Koviksudde","d":"c. 20-60 m","m":10.82,"v":15},{"l":"04. Koviksudde","d":"c. 20-60 m","m":11.47,"v":50},{"l":"04. Koviksudde","d":"c. 20-60 m","m":12.39,"v":20},{"l":"04. Koviksudde","d":"c. 20-60 m","m":12.39,"v":15},
{"l":"05. Solöfjärden","d":"c. 20-60 m","m":1.86,"v":3},{"l":"05. Solöfjärden","d":"c. 20-60 m","m":2.55,"v":10},{"l":"05. Solöfjärden","d":"c. 20-60 m","m":2.55,"v":5},{"l":"05. Solöfjärden","d":"c. 20-60 m","m":3.43,"v":8},{"l":"05. Solöfjärden","d":"c. 20-60 m","m":3.43,"v":6},{"l":"05. Solöfjärden","d":"c. 20-60 m","m":4.81,"v":8},{"l":"05. Solöfjärden","d":"c. 20-60 m","m":5.55,"v":45},{"l":"05. Solöfjärden","d":"c. 20-60 m","m":5.55,"v":35},{"l":"05. Solöfjärden","d":"c. 20-60 m","m":5.55,"v":25},{"l":"05. Solöfjärden","d":"c. 20-60 m","m":5.55,"v":15},{"l":"05. Solöfjärden","d":"c. 20-60 m","m":6.44,"v":100},{"l":"05. Solöfjärden","d":"c. 20-60 m","m":6.44,"v":75},{"l":"05. Solöfjärden","d":"c. 20-60 m","m":6.44,"v":55},{"l":"05. Solöfjärden","d":"c. 20-60 m","m":6.44,"v":45},{"l":"05. Solöfjärden","d":"c. 20-60 m","m":6.44,"v":35},{"l":"05. Solöfjärden","d":"c. 20-60 m","m":7.69,"v":130},{"l":"05. Solöfjärden","d":"c. 20-60 m","m":7.69,"v":90},{"l":"05. Solöfjärden","d":"c. 20-60 m","m":7.69,"v":80},{"l":"05. Solöfjärden","d":"c. 20-60 m","m":7.69,"v":50},{"l":"05. Solöfjärden","d":"c. 20-60 m","m":7.69,"v":40},{"l":"05. Solöfjärden","d":"c. 20-60 m","m":7.69,"v":30},{"l":"05. Solöfjärden","d":"c. 20-60 m","m":8.48,"v":25},{"l":"05. Solöfjärden","d":"c. 20-60 m","m":8.48,"v":20},{"l":"05. Solöfjärden","d":"c. 20-60 m","m":8.48,"v":15},{"l":"05. Solöfjärden","d":"c. 20-60 m","m":9.44,"v":35},{"l":"05. Solöfjärden","d":"c. 20-60 m","m":9.44,"v":25},{"l":"05. Solöfjärden","d":"c. 20-60 m","m":9.44,"v":10},{"l":"05. Solöfjärden","d":"c. 20-60 m","m":9.44,"v":10},{"l":"05. Solöfjärden","d":"c. 20-60 m","m":10.32,"v":40},{"l":"05. Solöfjärden","d":"c. 20-60 m","m":10.32,"v":15},{"l":"05. Solöfjärden","d":"c. 20-60 m","m":10.32,"v":5},{"l":"05. Solöfjärden","d":"c. 20-60 m","m":11.44,"v":30},{"l":"05. Solöfjärden","d":"c. 20-60 m","m":11.44,"v":28},{"l":"05. Solöfjärden","d":"c. 20-60 m","m":11.44,"v":25},{"l":"05. Solöfjärden","d":"c. 20-60 m","m":12.42,"v":8},
{"l":"07. Trälhavet II","d":"c. 20-60 m","m":1.88,"v":5},{"l":"07. Trälhavet II","d":"c. 20-60 m","m":2.53,"v":5},{"l":"07. Trälhavet II","d":"c. 20-60 m","m":3.48,"v":5},{"l":"07. Trälhavet II","d":"c. 20-60 m","m":4.93,"v":10},{"l":"07. Trälhavet II","d":"c. 20-60 m","m":5.09,"v":10},{"l":"07. Trälhavet II","d":"c. 20-60 m","m":5.57,"v":15},{"l":"07. Trälhavet II","d":"c. 20-60 m","m":5.96,"v":22},{"l":"07. Trälhavet II","d":"c. 20-60 m","m":6.47,"v":35},{"l":"07. Trälhavet II","d":"c. 20-60 m","m":6.88,"v":42},{"l":"07. Trälhavet II","d":"c. 20-60 m","m":7.6,"v":50},{"l":"07. Trälhavet II","d":"c. 20-60 m","m":8.03,"v":62},{"l":"07. Trälhavet II","d":"c. 20-60 m","m":8.03,"v":55},{"l":"07. Trälhavet II","d":"c. 20-60 m","m":8.03,"v":40},{"l":"07. Trälhavet II","d":"c. 20-60 m","m":8.03,"v":35},{"l":"07. Trälhavet II","d":"c. 20-60 m","m":8.37,"v":22},{"l":"07. Trälhavet II","d":"c. 20-60 m","m":8.95,"v":5},{"l":"07. Trälhavet II","d":"c. 20-60 m","m":9.43,"v":12},{"l":"07. Trälhavet II","d":"c. 20-60 m","m":9.94,"v":8},{"l":"07. Trälhavet II","d":"c. 20-60 m","m":10.37,"v":10},{"l":"07. Trälhavet II","d":"c. 20-60 m","m":10.78,"v":15},{"l":"07. Trälhavet II","d":"c. 20-60 m","m":11.5,"v":12},{"l":"07. Trälhavet II","d":"c. 20-60 m","m":12.37,"v":5},
{"l":"08. Nyvarp","d":"c. 20-60 m","m":2.53,"v":3},{"l":"08. Nyvarp","d":"c. 20-60 m","m":4.91,"v":5},{"l":"08. Nyvarp","d":"c. 20-60 m","m":5.54,"v":8},{"l":"08. Nyvarp","d":"c. 20-60 m","m":6.48,"v":20},{"l":"08. Nyvarp","d":"c. 20-60 m","m":6.48,"v":12},{"l":"08. Nyvarp","d":"c. 20-60 m","m":7.63,"v":40},{"l":"08. Nyvarp","d":"c. 20-60 m","m":7.63,"v":25},{"l":"08. Nyvarp","d":"c. 20-60 m","m":7.63,"v":15},{"l":"08. Nyvarp","d":"c. 20-60 m","m":7.63,"v":20},{"l":"08. Nyvarp","d":"c. 20-60 m","m":8.34,"v":20},{"l":"08. Nyvarp","d":"c. 20-60 m","m":8.34,"v":12},{"l":"08. Nyvarp","d":"c. 20-60 m","m":9.42,"v":5},{"l":"08. Nyvarp","d":"c. 20-60 m","m":10.36,"v":3},
{"l":"09. Sollenkroka","d":"c. 20-60 m","m":2.51,"v":3},{"l":"09. Sollenkroka","d":"c. 20-60 m","m":3.48,"v":5},{"l":"09. Sollenkroka","d":"c. 20-60 m","m":4.93,"v":5},{"l":"09. Sollenkroka","d":"c. 20-60 m","m":5.57,"v":3},{"l":"09. Sollenkroka","d":"c. 20-60 m","m":6.47,"v":18},{"l":"09. Sollenkroka","d":"c. 20-60 m","m":7.6,"v":5},{"l":"09. Sollenkroka","d":"c. 20-60 m","m":8.37,"v":5},{"l":"09. Sollenkroka","d":"c. 20-60 m","m":9.43,"v":2},{"l":"09. Sollenkroka","d":"c. 20-60 m","m":10.37,"v":5},{"l":"09. Sollenkroka","d":"c. 20-60 m","m":11.51,"v":8},
{"l":"10. NV Eknö","d":"c. 20-60 m","m":2.53,"v":2},{"l":"10. NV Eknö","d":"c. 20-60 m","m":3.49,"v":5},{"l":"10. NV Eknö","d":"c. 20-60 m","m":4.91,"v":5},{"l":"10. NV Eknö","d":"c. 20-60 m","m":5.54,"v":2},{"l":"10. NV Eknö","d":"c. 20-60 m","m":6.48,"v":8},{"l":"10. NV Eknö","d":"c. 20-60 m","m":7.63,"v":8},{"l":"10. NV Eknö","d":"c. 20-60 m","m":8.34,"v":5},{"l":"10. NV Eknö","d":"c. 20-60 m","m":9.42,"v":5},{"l":"10. NV Eknö","d":"c. 20-60 m","m":10.36,"v":8},{"l":"10. NV Eknö","d":"c. 20-60 m","m":11.52,"v":5}
  ]},
  "facet": {"field": "l", "type": "nominal", "title": "Lokal"},
  "columns": 2,
  "spacing": {"column": 2, "row": 3},
  "spec": {
   "width": 424,
   "height": 136,
   "encoding": {
    "x": {"field": "m", "type": "quantitative", "scale": {"domain": [0.5, 12.8], "nice": false, "zero": false}, "axis": {"values": [1,2,3,4,5,6,7,8,9,10,11,12], "title": null, "grid": true, "labelPadding": 6}},
    "color": {"field": "d", "type": "nominal", "scale": {"domain": ["a. 0-4 m", "b. 8-20 m", "c. 20-60 m"], "range": ["#1b9fb5", "#dccb1e", "#9e1b20"]}, "legend": {"title": "Djup", "orient": "none", "legendX": 858, "legendY": -40, "symbolType": "stroke", "symbolStrokeWidth": 3.5, "symbolSize": 400, "padding": 0, "rowPadding": 0, "titlePadding": 8, "labelOffset": 3}}
   },
   "layer": [
    {"mark": {"type": "line", "strokeWidth": 3.5, "clip": true}, "encoding": {"y": {"aggregate": "mean", "field": "v", "type": "quantitative", "scale": {"domain": [0, 412], "nice": false}, "axis": {"values": [0,50,100,150,200,250,300,350,400], "title": null}}}},
    {"mark": {"type": "circle", "size": 70, "opacity": 1, "clip": true}, "encoding": {"y": {"field": "v", "type": "quantitative", "scale": {"domain": [0, 412], "nice": false}, "axis": {"values": [0,50,100,150,200,250,300,350,400], "title": null}}}}
   ]
  }
 },
 {
  "data": {"values": [{"t": "Månad"}]},
  "width": 843,
  "height": 32,
  "view": {"stroke": null},
  "mark": {"type": "text", "fontSize": 17, "fontWeight": "bold", "color": "#111111", "baseline": "middle", "dy": 3},
  "encoding": {"text": {"field": "t", "type": "nominal"}}
 }
],
"spacing": 0
}
